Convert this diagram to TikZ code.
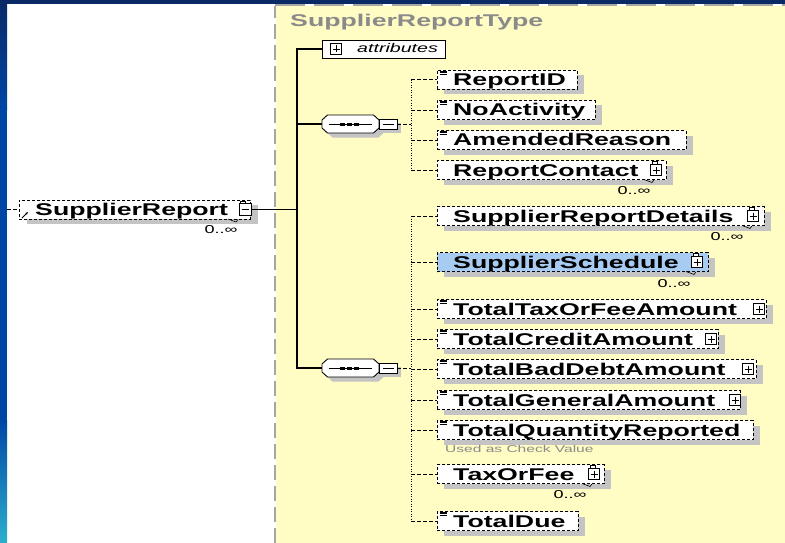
\documentclass[tikz,border=0pt]{standalone}
\usepackage{fontspec}
\newfontfamily\wf[FakeStretch=1.57]{Liberation Sans}
\usetikzlibrary{arrows.meta}
\definecolor{navy}{HTML}{0A2A66}
\definecolor{stripblue}{HTML}{0046A6}
\definecolor{stripcyan}{HTML}{2CB0CC}
\definecolor{paper}{HTML}{FFFCC4}
\definecolor{bordergray}{HTML}{A6A6A6}
\definecolor{shadowgray}{HTML}{C4C4C4}
\definecolor{selblue}{HTML}{A8CBF2}
\definecolor{titlegray}{HTML}{8A8A8A}
\tikzset{
 elbox/.style={draw=black, dash pattern=on 3pt off 2pt, line width=0.9pt, fill=white, minimum height=19pt, inner sep=0pt, anchor=west},
 eltext/.style={font=\wf\bfseries\fontsize{17}{20}\selectfont, inner sep=0pt, anchor=base west},
 occ/.style={font=\wf\fontsize{11.5}{12}\selectfont, inner sep=0pt},
 conn/.style={line width=1.2pt, black},
 dconn/.style={line width=1pt, dash pattern=on 3.5pt off 2.5pt},
 dotline/.style={line width=1pt, dash pattern=on 1pt off 1.5pt},
 icon/.style={draw=black, line width=0.7pt, fill=white},
 seqbox/.style={rectangle, minimum width=57pt, minimum height=18pt, inner sep=0pt},
 octline/.style={draw=black, line width=0.9pt, fill=white},
 octshadow/.style={fill=shadowgray},
 minbox/.style={draw=black, line width=0.8pt, fill=white, minimum width=18pt, minimum height=10pt, inner sep=0pt},
}
\newcommand\xel[5]{%
 \fill[shadowgray] (444,#2-4.5) rectangle (#3+7,#2+14.5);
 \node[elbox, fill=#5, minimum width={#3-437}] (#1) at (437,#2) {};
 \node[eltext] at (453,#2+6) {#4};
}
\newcommand\octa[3]{\path[#3] (#1-28.5,#2-4) -- (#1-23,#2-9) -- (#1+23,#2-9) -- (#1+28.5,#2-4) -- (#1+28.5,#2+4) -- (#1+23,#2+9) -- (#1-23,#2+9) -- (#1-28.5,#2+4) -- cycle;}
\newcommand\eqmark[1]{\draw[line width=0.6pt] (439.5,#1-9) -- +(7,0) (439.5,#1-7.3) -- +(7,0) (439.5,#1-5.6) -- +(7,0);}
\newcommand\plusicon[2]{\draw[icon] (#1-5.5,#2-5.5) rectangle (#1+5.5,#2+5.5); \draw[line width=0.7pt] (#1-3.5,#2) -- (#1+3.5,#2) (#1,#2-3.5) -- (#1,#2+3.5);}
\newcommand\tabicon[2]{\draw[icon] (#1-4,#2-8.5) rectangle (#1+1,#2-5.5);}
\newcommand\multmark[2]{\draw[line width=0.6pt] (#1-22,#2) -- (#1-14,#2+3) -- (#1-12,#2+0.5);}
\begin{document}
\begin{tikzpicture}[x=1pt,y=-1pt]
\useasboundingbox (0,0) rectangle (785,543);
\fill[white] (0,0) rectangle (785,543);
\fill[paper] (276,6) rectangle (785,543);
\draw[bordergray, line width=2pt, dash pattern=on 15pt off 6pt] (275,543) -- (275,6);
\draw[bordergray, line width=2pt, dash pattern=on 30pt off 9pt] (275,5.5) -- (785,5.5);
\shade[top color=navy, bottom color=stripblue] (0,0) rectangle (7,110);
\fill[stripblue] (0,109) rectangle (7,421);
\shade[top color=stripblue, bottom color=stripcyan] (0,420) rectangle (7,543);
\fill[navy] (0,0) rectangle (785,4);

% title
\node[font=\wf\bfseries\fontsize{17}{20}\selectfont, text=titlegray, inner sep=0pt, anchor=base west] (title) at (290,27) {SupplierReportType};

% root element
\fill[shadowgray] (27,205) rectangle (258,224);
\node[elbox, minimum width=231pt] (sr) at (19,209.5) {};
\node[eltext] at (35,215.5) {SupplierReport};
\tabicon{244}{209.5}
\draw[icon] (239,203.5) rectangle (251,215.5);
\draw[line width=0.7pt] (241.5,209.5) -- (248.5,209.5);
\draw[line width=0.8pt, -{Stealth[length=3pt]}] (22,218) -- (28,212);
\multmark{250}{219}
\node[occ] at (221,230) {0..∞};
\coordinate (lin) at (7,209.5);
\draw[dconn] (lin) -- (sr.west);

% attributes
\node[draw=black, line width=0.9pt, fill=white, minimum width=123pt, minimum height=18pt, inner sep=0pt, anchor=west] (attr) at (322,49) {};
\plusicon{336}{49}
\node[font=\wf\itshape\fontsize{12.5}{14}\selectfont, inner sep=0pt, anchor=base west] at (357,53) {attributes};

% sequences
\octa{355.5}{128.5}{octshadow}
\octa{350.5}{124}{octline}
\node[seqbox] (seq1) at (350.5,124) {};
\draw[line width=0.8pt] (329,124) -- (372,124);
\foreach \xx in {340,347,354} \fill (\xx,122.5) rectangle (\xx+4.5,125.5);
\fill[shadowgray] (383,123) rectangle (401,133);
\node[minbox] (seq1m) at (388,124) {};
\draw[line width=0.8pt] (382.5,124) -- (393.5,124);

\octa{355.5}{372.5}{octshadow}
\octa{350.5}{368}{octline}
\node[seqbox] (seq2) at (350.5,368) {};
\draw[line width=0.8pt] (329,368) -- (372,368);
\foreach \xx in {340,347,354} \fill (\xx,366.5) rectangle (\xx+4.5,369.5);
\fill[shadowgray] (383,367) rectangle (401,377);
\node[minbox] (seq2m) at (388,368) {};
\draw[line width=0.8pt] (382.5,368) -- (393.5,368);

% trunk connectors
\coordinate (tr) at (297,0);
\draw[conn] (sr.east) -- (sr.east -| tr);
\draw[conn] (attr.west) -| (seq2.west -| tr) -- (seq2.west);
\draw[conn] (seq1.west -| tr) -- (seq1.west);

% elements of sequence 1
\xel{rid}{80}{577}{ReportID}{white}
\eqmark{80}
\xel{noa}{110}{595}{NoActivity}{white}
\eqmark{110}
\xel{amr}{140}{686}{AmendedReason}{white}
\eqmark{140}
\xel{rc}{170}{666}{ReportContact}{white}
\tabicon{656}{170}\plusicon{656}{170}
\multmark{666}{179.5}
\node[occ] at (634,191) {0..∞};

% elements of sequence 2
\xel{srd}{216}{764}{SupplierReportDetails}{white}
\tabicon{753}{216}\plusicon{753}{216}
\multmark{764}{225.5}
\node[occ] at (727,237) {0..∞};
\xel{ss}{262}{708}{SupplierSchedule}{selblue}
\tabicon{697}{262}\plusicon{697}{262}
\multmark{708}{271.5}
\node[occ] at (674,284) {0..∞};
\xel{ttf}{309}{766}{TotalTaxOrFeeAmount}{white}
\eqmark{309}\plusicon{759}{309}
\xel{tca}{339}{718}{TotalCreditAmount}{white}
\eqmark{339}\plusicon{711}{339}
\xel{tbd}{369}{756}{TotalBadDebtAmount}{white}
\eqmark{369}\plusicon{748}{369}
\xel{tga}{400}{740}{TotalGeneralAmount}{white}
\eqmark{400}\plusicon{735}{400}
\xel{tqr}{430}{753}{TotalQuantityReported}{white}
\eqmark{430}
\node[font=\wf\fontsize{9.9}{11}\selectfont, text=titlegray, inner sep=0pt, anchor=west] at (445,449) {Used as Check Value};
\xel{tof}{474}{604}{TaxOrFee}{white}
\tabicon{594}{474}\plusicon{594}{474}
\multmark{604}{483.5}
\node[occ] at (570,495) {0..∞};
\xel{td}{521}{578}{TotalDue}{white}
\eqmark{521}

% sequence connectors
\coordinate (vx) at (411,0);
\draw[dconn] (seq1m.east) -- (seq1m.east -| vx);
\draw[dotline] (rid.west -| vx) -- (rc.west -| vx);
\foreach \n in {rid,noa,amr,rc} \draw[dconn] (\n.west -| vx) -- (\n.west);
\draw[dconn] (seq2m.east) -- (seq2m.east -| vx);
\draw[dotline] (srd.west -| vx) -- (td.west -| vx);
\foreach \n in {srd,ss,ttf,tca,tbd,tga,tqr,tof,td} \draw[dconn] (\n.west -| vx) -- (\n.west);
\end{tikzpicture}
\end{document}
